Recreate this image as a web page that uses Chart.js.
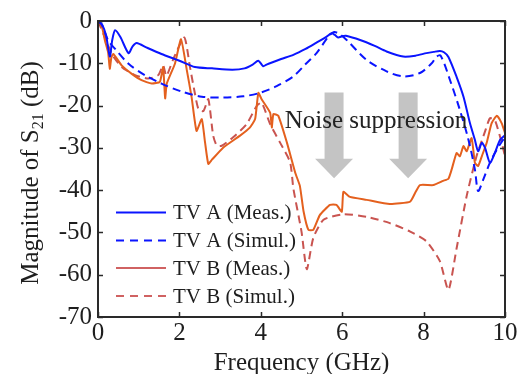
<!DOCTYPE html>
<html>
<head>
<meta charset="utf-8">
<script src="https://cdn.jsdelivr.net/npm/chart.js@4/dist/chart.umd.min.js"></script>
<style>
html,body{margin:0;padding:0;background:#fff;}
#wrap{width:527px;height:374px;position:relative;}
</style>
</head>
<body>
<div id="wrap"><canvas id="c" width="527" height="374"></canvas></div>
<script>
// ---- data ----
const freqAMeas = [0, 0.1, 0.2, 0.29, 0.35, 0.42, 0.55, 0.75, 0.85, 0.95, 1.2, 1.56, 2.0, 2.38, 2.8, 3.3, 3.6, 3.8, 3.94, 4.06, 4.14, 4.5, 4.8, 5.1, 5.37, 5.6, 5.74, 5.82, 5.9, 6.0, 6.09, 6.44, 6.8, 7.09, 7.5, 7.8, 8.07, 8.25, 8.4, 8.5, 8.61, 8.81, 8.98, 9.14, 9.26, 9.34, 9.43, 9.51, 9.63, 9.75, 9.88, 10];
const magAMeas  = [0, -0.8, -3.5, -8.4, -4.5, -2.2, -3.8, -7.6, -6, -5.2, -6.3, -7.8, -9.4, -10.9, -11.2, -11.5, -11.2, -10.3, -9.4, -10.7, -10.3, -9, -8, -6.6, -5.1, -3.8, -2.9, -3.3, -3.9, -3.6, -3.5, -4.5, -5.9, -7.2, -8.4, -8.2, -7.6, -7.3, -7.1, -7.4, -8.5, -13.2, -17.9, -24.2, -28.1, -30.8, -28.8, -30, -33.5, -31.2, -28.1, -27];

const freqASim = [0, 0.1, 0.25, 0.42, 0.75, 1.15, 1.56, 2.06, 2.55, 3.08, 3.57, 3.98, 4.39, 4.8, 5.09, 5.37, 5.66, 5.8, 5.95, 6.11, 6.6, 7.09, 7.5, 7.91, 8.2, 8.32, 8.42, 8.65, 8.89, 9.1, 9.26, 9.34, 9.47, 9.63, 9.8, 9.96, 10];
const magASim  = [0, -1, -4.6, -6.6, -10.1, -12.8, -14.8, -16.7, -17.9, -18.1, -17.8, -17, -15.4, -13.1, -10.3, -7.6, -3.7, -2.6, -3.2, -4.5, -9.2, -11.9, -13.1, -12.3, -10, -8.4, -8.2, -14, -21, -28, -35.1, -40.2, -37.4, -33.5, -30.4, -28, -27.5];

const freqBMeas = [0, 0.1, 0.17, 0.25, 0.29, 0.33, 0.38, 0.58, 0.83, 1.07, 1.32, 1.52, 1.6, 1.65, 1.69, 1.89, 2.04, 2.18, 2.3, 2.42, 2.55, 2.63, 2.71, 2.8, 3.08, 3.49, 3.73, 3.86, 3.94, 4.02, 4.23, 4.27, 4.31, 4.43, 4.64, 4.85, 4.96, 5.05, 5.17, 5.29, 5.45, 5.7, 5.86, 5.99, 6.03, 6.19, 6.6, 7.17, 7.67, 7.8, 7.91, 8.24, 8.48, 8.61, 8.69, 8.81, 8.89, 8.98, 9.06, 9.18, 9.26, 9.34, 9.43, 9.55, 9.67, 9.8, 9.92, 10];
const magBMeas  = [0, -1.5, -4.6, -7.5, -11.3, -8.5, -7.8, -10.5, -12.5, -14, -14.8, -14.4, -10.9, -18.3, -14.8, -10.1, -4.3, -11.5, -18, -26, -23.2, -28.7, -33.8, -32.8, -29.9, -27.1, -25.2, -23.2, -17, -18.5, -21.7, -25.2, -22, -22.4, -28.7, -36, -39, -45, -49.4, -49.4, -45.9, -43.5, -43.5, -45.1, -40.4, -41.6, -42.3, -43.3, -42.7, -40.5, -38.8, -38.8, -37.8, -37.3, -35.1, -31.2, -32, -29.6, -30.8, -27.7, -33.5, -34.3, -32, -28.8, -24.2, -22.4, -24.2, -26.5];

const freqBSim = [0, 0.17, 0.34, 0.58, 0.91, 1.24, 1.48, 1.6, 1.68, 1.85, 2.12, 2.26, 2.38, 2.47, 2.59, 2.71, 2.83, 2.92, 3.04, 3.32, 3.65, 3.9, 4.02, 4.23, 4.47, 4.72, 4.8, 5.0, 5.13, 5.29, 5.54, 6.03, 6.6, 7.17, 7.67, 8.07, 8.4, 8.61, 8.81, 9.06, 9.3, 9.51, 9.63, 9.75, 9.92, 10];
const magBSim  = [0, -3.9, -7.8, -10.9, -12.8, -13.6, -12.8, -10.5, -13, -9, -3.9, -10.9, -17.1, -20.9, -21.3, -18.5, -27.1, -29.5, -29.5, -27.5, -24.4, -20.1, -19.3, -24.4, -28.7, -33.4, -39.6, -49.8, -58.7, -51.3, -47, -45.7, -46.3, -47.8, -49.8, -52.1, -56.8, -63.6, -53.8, -41.3, -32, -26.1, -23, -23.4, -28.8, -32];

const seriesNames = ['TV A (Meas.)', 'TV A (Simul.)', 'TV B (Meas.)', 'TV B (Simul.)'];
const xTicks = [0, 2, 4, 6, 8, 10];
const yTicks = [0, -10, -20, -30, -40, -50, -60, -70];
const annotationText = 'Noise suppression';
const arrowX = [5.8, 7.62];
const arrowTop = -16.9;
const arrowTip = -37.2;
const arrowHeadStart = -32.6;

// ---- chart ----
const pts = (xs, ys) => xs.map((x, i) => ({x: x, y: ys[i]}));
const SERIF = '"Liberation Serif", "Times New Roman", serif';
const BLUE = '#0a14ff';
const ORANGE = '#e4601e';
const RED = '#c95450';
const LEG_RED = '#d06262';
const TXT = '#1e1e1e';

const legendStyles = [
  {color: BLUE, dash: []},
  {color: BLUE, dash: [8, 6]},
  {color: LEG_RED, dash: []},
  {color: LEG_RED, dash: [8, 6]}
];

const overlay = {
  id: 'overlay',
  beforeDatasetsDraw(chart) {
    const {ctx, scales: {x, y}} = chart;
    ctx.save();
    ctx.fillStyle = '#c4c4c4';
    arrowX.forEach(ax => {
      const cx = x.getPixelForValue(ax);
      const t = y.getPixelForValue(arrowTop);
      const h = y.getPixelForValue(arrowHeadStart);
      const tip = y.getPixelForValue(arrowTip);
      ctx.beginPath();
      ctx.moveTo(cx - 9.5, t);
      ctx.lineTo(cx + 9.5, t);
      ctx.lineTo(cx + 9.5, h);
      ctx.lineTo(cx + 19, h);
      ctx.lineTo(cx, tip);
      ctx.lineTo(cx - 19, h);
      ctx.lineTo(cx - 9.5, h);
      ctx.closePath();
      ctx.fill();
    });
    ctx.restore();
  },
  afterDraw(chart) {
    const {ctx, chartArea: a, scales: {x, y}} = chart;
    ctx.save();
    // frame
    ctx.strokeStyle = '#2a2a2a';
    ctx.lineWidth = 2;
    ctx.strokeRect(a.left, a.top, a.right - a.left, a.bottom - a.top);
    // inward ticks
    ctx.lineWidth = 1.5;
    ctx.beginPath();
    xTicks.forEach(v => {
      const px = Math.round(x.getPixelForValue(v)) + 0.5;
      ctx.moveTo(px, a.bottom); ctx.lineTo(px, a.bottom - 5);
      ctx.moveTo(px, a.top); ctx.lineTo(px, a.top + 5);
    });
    yTicks.forEach(v => {
      const py = Math.round(y.getPixelForValue(v)) + 0.5;
      ctx.moveTo(a.left, py); ctx.lineTo(a.left + 5, py);
      ctx.moveTo(a.right, py); ctx.lineTo(a.right - 5, py);
    });
    ctx.stroke();

    // annotation text
    ctx.fillStyle = '#222';
    ctx.font = '25px ' + SERIF;
    ctx.textAlign = 'center';
    ctx.textBaseline = 'alphabetic';
    ctx.fillText(annotationText, x.getPixelForValue(6.83), y.getPixelForValue(-25.4));

    // legend
    const rows = [212.5, 240.5, 268, 296];
    ctx.font = '21px ' + SERIF;
    ctx.textAlign = 'left';
    ctx.textBaseline = 'middle';
    seriesNames.forEach((n, i) => {
      const st = legendStyles[i];
      ctx.strokeStyle = st.color;
      ctx.lineWidth = 2;
      ctx.setLineDash(st.dash);
      ctx.beginPath();
      ctx.moveTo(116, rows[i]);
      ctx.lineTo(166, rows[i]);
      ctx.stroke();
      ctx.setLineDash([]);
      ctx.fillStyle = TXT;
      ctx.fillText(n, 173, rows[i] + 1);
    });

    // x title
    ctx.font = '25px ' + SERIF;
    ctx.textAlign = 'center';
    ctx.textBaseline = 'alphabetic';
    ctx.fillStyle = TXT;
    ctx.fillText('Frequency (GHz)', (a.left + a.right) / 2, 370);

    // y title with subscript
    ctx.translate(38, (a.top + a.bottom) / 2 + 4);
    ctx.rotate(-Math.PI / 2);
    const p1 = 'Magnitude of S', sub = '21', p2 = ' (dB)';
    ctx.font = '25px ' + SERIF;
    const w1 = ctx.measureText(p1).width, w3 = ctx.measureText(p2).width;
    ctx.font = '16px ' + SERIF;
    const w2 = ctx.measureText(sub).width;
    const tot = w1 + w2 + w3;
    let cx = -tot / 2;
    ctx.textAlign = 'left';
    ctx.font = '25px ' + SERIF;
    ctx.fillText(p1, cx, 0); cx += w1;
    ctx.font = '16px ' + SERIF;
    ctx.fillText(sub, cx, 5); cx += w2;
    ctx.font = '25px ' + SERIF;
    ctx.fillText(p2, cx, 0);
    ctx.restore();
  }
};

new Chart(document.getElementById('c'), {
  type: 'line',
  data: {
    datasets: [
      {label: seriesNames[0], data: pts(freqAMeas, magAMeas), borderColor: BLUE, borderWidth: 2, tension: 0.25},
      {label: seriesNames[1], data: pts(freqASim, magASim), borderColor: BLUE, borderWidth: 2, borderDash: [8, 5], tension: 0.3},
      {label: seriesNames[2], data: pts(freqBMeas, magBMeas), borderColor: ORANGE, borderWidth: 2, tension: 0.15},
      {label: seriesNames[3], data: pts(freqBSim, magBSim), borderColor: RED, borderWidth: 2, borderDash: [8, 5], tension: 0.2}
    ]
  },
  options: {
    responsive: false,
    animation: false,
    devicePixelRatio: 1,
    layout: {padding: {top: 17, right: 22, left: 0, bottom: 0}},
    elements: {point: {radius: 0}, line: {fill: false, cubicInterpolationMode: 'default'}},
    plugins: {legend: {display: false}, tooltip: {enabled: false}},
    scales: {
      x: {
        type: 'linear', min: 0, max: 10,
        afterBuildTicks: s => { s.ticks = xTicks.map(v => ({value: v})); },
        afterFit: s => { s.height = 57; },
        grid: {display: false, drawTicks: false},
        border: {display: false},
        ticks: {padding: 1, color: TXT, font: {family: SERIF, size: 25}, maxRotation: 0, autoSkip: false}
      },
      y: {
        type: 'linear', min: -70, max: 0,
        afterBuildTicks: s => { s.ticks = yTicks.map(v => ({value: v})); },
        afterFit: s => { s.width = 98; },
        grid: {display: false, drawTicks: false},
        border: {display: false},
        ticks: {padding: 6, color: TXT, font: {family: SERIF, size: 25}, autoSkip: false,
          callback: v => String(v)}
      }
    }
  },
  plugins: [overlay]
});
</script>
</body>
</html>
